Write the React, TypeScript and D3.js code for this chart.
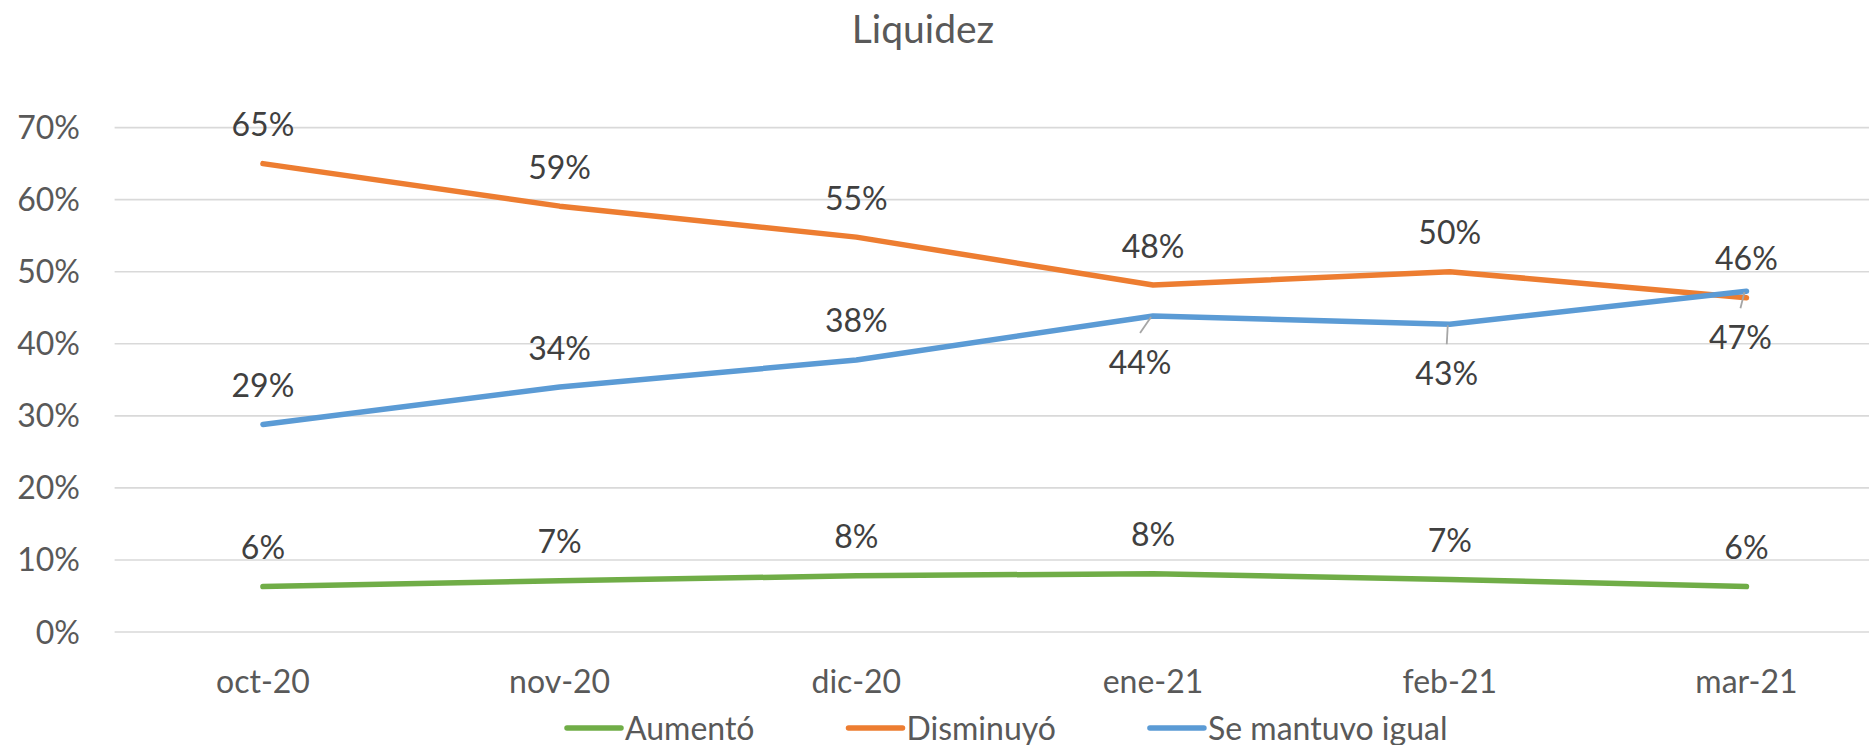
import React, { useEffect, useRef } from "react";
import * as d3 from "d3";

const title = "Liquidez";
const categories = ["oct-20", "nov-20", "dic-20", "ene-21", "feb-21", "mar-21"];
const yTicks = [0, 0.1, 0.2, 0.3, 0.4, 0.5, 0.6, 0.7];
const seriesNames = ["Aumentó", "Disminuyó", "Se mantuvo igual"];
const aumento = [0.063, 0.071, 0.078, 0.081, 0.073, 0.063];
const disminuyo = [0.65, 0.591, 0.548, 0.4815, 0.5, 0.464];
const igual = [0.288, 0.34, 0.3775, 0.4385, 0.427, 0.473];

const colors = ["#70ad47", "#ed7d31", "#5b9bd5"];
// label offsets (style): default above, some blue labels moved below with leader lines
const blueLabelOffsets: Record<number, [number, number]> = { 3: [-13, 46], 4: [-3, 49], 5: [-6, 46] };

const W = 1869;
const H = 745;
const FONT = "Lato, 'Open Sans', sans-serif";

export default function App() {
  const ref = useRef<SVGSVGElement | null>(null);
  useEffect(() => {
    const svg = d3.select(ref.current);
    svg.selectAll("*").remove();
    const left = 114.6;
    const step = 296.7;
    const x = d3.scaleBand<string>().domain(categories).range([left, left + step * categories.length]);
    const cx = (c: string) => (x(c) as number) + x.bandwidth() / 2;
    const y = d3.scaleLinear().domain([0, 0.7]).range([632, 127.6]);

    // title
    svg.append("text").attr("x", 923).attr("y", 43).attr("text-anchor", "middle")
      .attr("font-family", FONT).attr("font-size", 39).attr("fill", "#595959").text(title);

    // gridlines
    svg.append("g").selectAll("line").data(yTicks).join("line")
      .attr("x1", left).attr("x2", W).attr("y1", d => y(d)).attr("y2", d => y(d))
      .attr("stroke", "#d9d9d9").attr("stroke-width", 1.6);

    // y labels
    svg.append("g").selectAll("text").data(yTicks).join("text")
      .attr("x", 80).attr("y", d => y(d) + 11.5).attr("text-anchor", "end")
      .attr("font-family", FONT).attr("font-size", 32).attr("fill", "#595959")
      .text(d => `${Math.round(d * 100)}%`);

    // x labels
    svg.append("g").selectAll("text").data(categories).join("text")
      .attr("x", d => cx(d)).attr("y", 693).attr("text-anchor", "middle")
      .attr("font-family", FONT).attr("font-size", 32).attr("fill", "#595959").text(d => d);

    const all = [aumento, disminuyo, igual];
    const line = d3.line<number>().x((_, i) => cx(categories[i])).y(d => y(d));
    all.forEach((vals, si) => {
      svg.append("path").attr("d", line(vals) as string).attr("fill", "none")
        .attr("stroke", colors[si]).attr("stroke-width", 5.5)
        .attr("stroke-linecap", "round").attr("stroke-linejoin", "round");
    });

    // data labels
    all.forEach((vals, si) => {
      vals.forEach((v, i) => {
        const px = cx(categories[i]);
        const py = y(v);
        let dx = 0, dy = -39;
        if (si === 2 && blueLabelOffsets[i]) {
          [dx, dy] = blueLabelOffsets[i];
          svg.append("line").attr("x1", px - 2).attr("y1", py + 1)
            .attr("x2", px + dx).attr("y2", py + dy - 29)
            .attr("stroke", "#a6a6a6").attr("stroke-width", 1.8);
        }
        svg.append("text").attr("x", px + dx).attr("y", py + dy + 11.5)
          .attr("text-anchor", "middle").attr("font-family", FONT).attr("font-size", 32)
          .attr("fill", "#404040").text(`${Math.round(v * 100)}%`);
      });
    });

    // legend
    let lx = 567;
    const ly = 728;
    seriesNames.forEach((name, si) => {
      svg.append("line").attr("x1", lx).attr("x2", lx + 54).attr("y1", ly).attr("y2", ly)
        .attr("stroke", colors[si]).attr("stroke-width", 5.5).attr("stroke-linecap", "round");
      const t = svg.append("text").attr("x", lx + 58).attr("y", ly + 11.5)
        .attr("font-family", FONT).attr("font-size", 32).attr("fill", "#595959").text(name);
      const w = (t.node() as SVGTextElement).getComputedTextLength();
      lx = lx + 58 + w + 94;
    });
  }, []);
  return (
    <svg ref={ref} width={W} height={H} style={{ position: "absolute", left: 0, top: 0, background: "#fff" }} />
  );
}
